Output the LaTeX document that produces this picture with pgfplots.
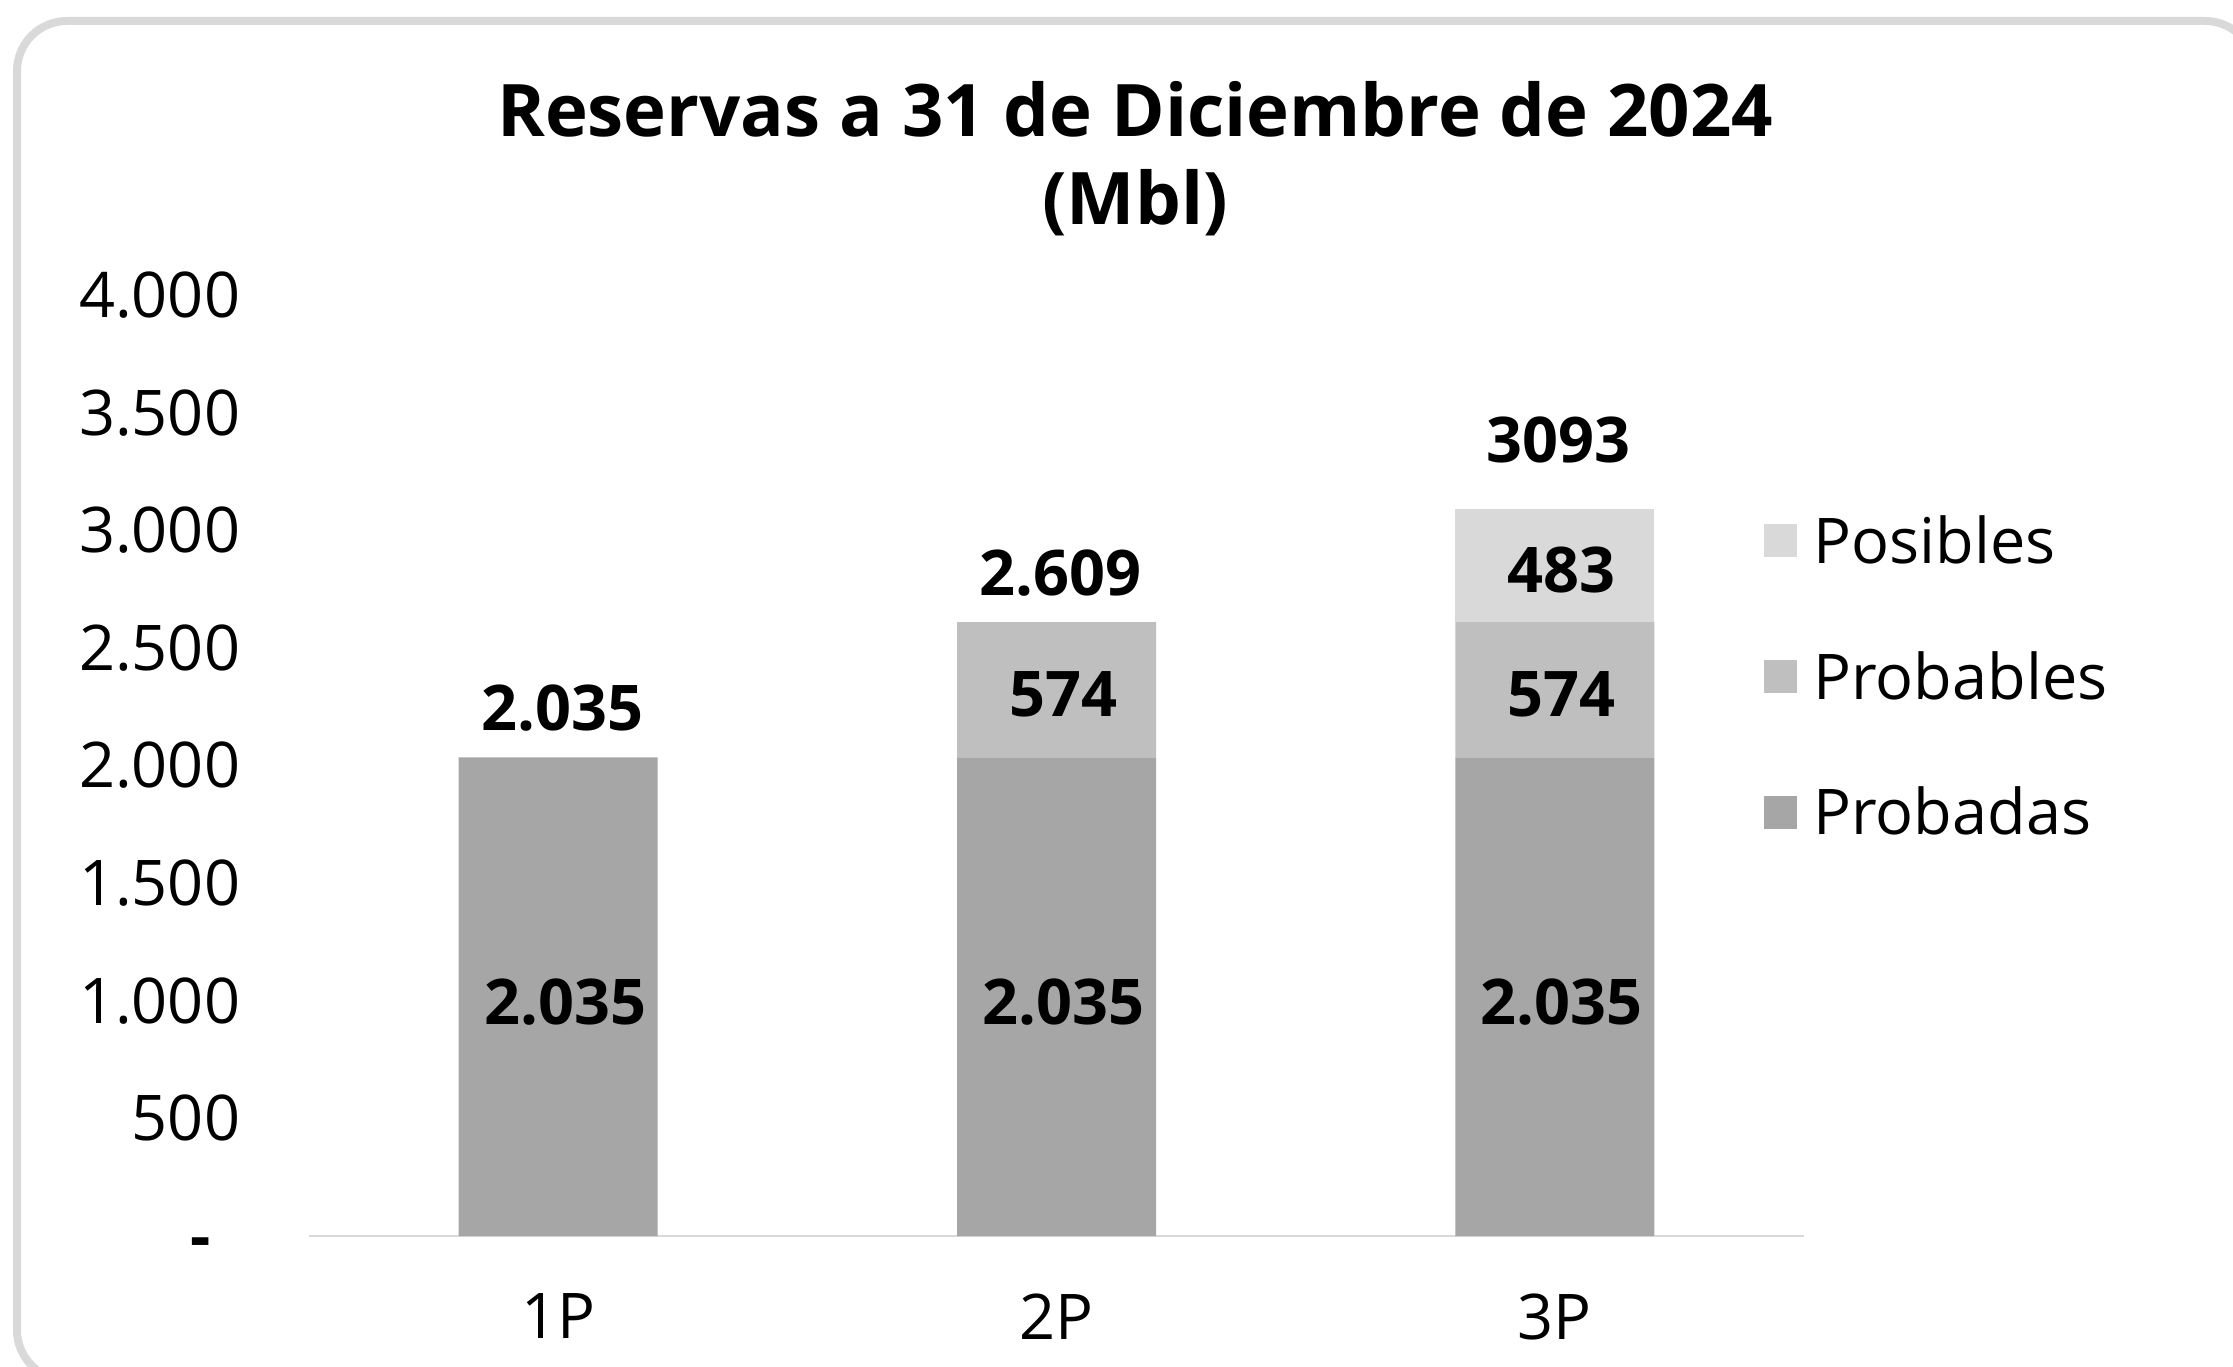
\documentclass[border=0pt]{standalone}
\usepackage{fontspec}
\setmainfont{Open Sans}
\usepackage{pgfplots}
\pgfplotsset{compat=1.18}

\definecolor{probadas}{HTML}{A6A6A6}
\definecolor{probables}{HTML}{BFBFBF}
\definecolor{posibles}{HTML}{D9D9D9}
\definecolor{marco}{HTML}{D9D9D9}

\newcommand{\lbl}{\fontsize{12.6}{15}\selectfont}

\pgfplotsset{
  base/.style={
    at={(61.8pt,26pt)}, anchor=south west,
    scale only axis, width=299pt, height=188.2pt,
    xmin=0.5, xmax=3.5, ymin=0, ymax=4000,
    enlargelimits=false,
  },
  sq/.style={legend image code/.code={\fill[##1,draw=none] (0pt,-2.8pt) rectangle (6.6pt,3.8pt);}},
}

\begin{document}
\begin{tikzpicture}
\useasboundingbox (0,0) rectangle (446.6pt,273.2pt);
\draw[marco, line width=1.6pt, rounded corners=10pt] (3.4pt,269pt) rectangle (451pt,-2.8pt);

\begin{axis}[base,
  ybar stacked, bar width=39.8pt,
  axis x line*=bottom, axis y line*=left,
  y axis line style={draw=none},
  x axis line style={draw=marco, line width=0.4pt},
  xtick={1,2,3}, xticklabels={1P,2P,3P},
  ytick={0,500,...,4000},
  yticklabels={{\vphantom{0}\textbf{-}\rule{5.9pt}{0pt}},500,1.000,1.500,2.000,2.500,3.000,3.500,4.000},
  major tick length=0pt, tick style={draw=none},
  ticklabel style={font=\lbl, inner sep=0pt},
  yticklabel style={xshift=-13.6pt},
  xticklabel style={yshift=-11.4pt},
  title={Reservas a 31 de Diciembre de 2024\\(Mbl)},
  title style={at={(0.5525,1)}, anchor=north, yshift=36.9pt, align=center,
    inner sep=0pt, font=\bfseries\fontsize{14.5}{17.6}\selectfont},
  legend style={at={(0.9726,0.592)}, anchor=west, draw=none, fill=none,
    inner sep=0pt, row sep=16.1pt, font=\lbl, nodes={inner sep=0pt},
    /tikz/every odd column/.append style={column sep=3.3pt}},
  legend cell align=left, reverse legend,
]
\addplot[fill=probadas, draw=none, sq] coordinates {(1,2035) (2,2035) (3,2035)};
\addplot[fill=probables, draw=none, sq] coordinates {(1,0) (2,574) (3,574)};
\addplot[fill=posibles, draw=none, sq] coordinates {(1,0) (2,0) (3,483)};
\legend{Probadas, Probables, Posibles}
\end{axis}

\begin{axis}[base, hide axis]
% etiquetas dentro de los segmentos
\addplot[draw=none, nodes near coords, point meta=explicit symbolic,
  every node near coord/.style={anchor=center, xshift=1.4pt, yshift=-1pt, font=\bfseries\lbl}]
  coordinates {(1,1017.5)[2.035] (2,1017.5)[2.035] (3,1017.5)[2.035]
               (2,2322)[574] (3,2322)[574] (3,2851.5)[483]};
% totales
\addplot[draw=none, nodes near coords, point meta=explicit symbolic,
  every node near coord/.style={anchor=center, xshift=0.8pt, yshift=9.8pt, font=\bfseries\lbl}]
  coordinates {(1,2035)[2.035] (2,2609)[2.609] (3,3093)[\raisebox{8pt}{3093}]};
\end{axis}
\end{tikzpicture}
\end{document}
